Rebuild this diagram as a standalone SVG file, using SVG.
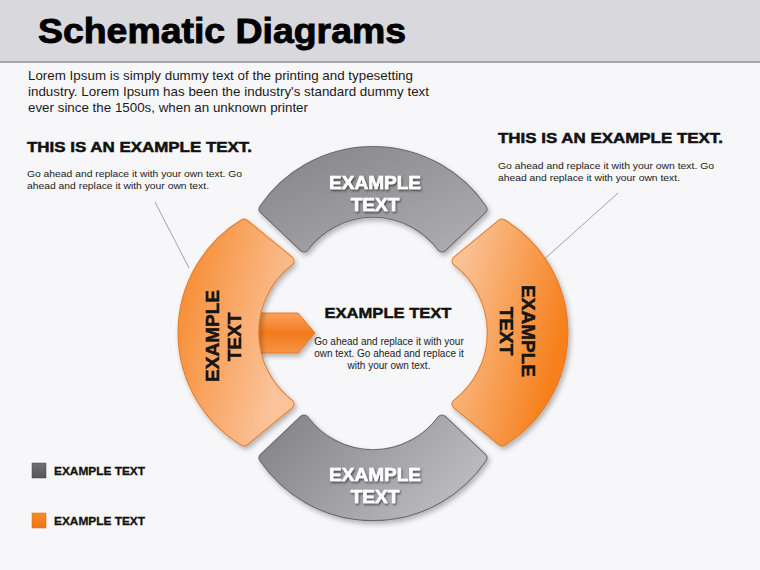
<svg xmlns="http://www.w3.org/2000/svg" width="760" height="570" viewBox="0 0 760 570">
<defs>
<linearGradient id="gTop" x1="0" y1="0" x2="1" y2="1"><stop offset="0" stop-color="#858488"/><stop offset="1" stop-color="#aeadb1"/></linearGradient>
<linearGradient id="gBot" x1="0" y1="0" x2="1" y2="0.4"><stop offset="0" stop-color="#828186"/><stop offset="1" stop-color="#b9b8bc"/></linearGradient>
<linearGradient id="oLeft" x1="0" y1="0" x2="1" y2="0.5"><stop offset="0" stop-color="#f6882b"/><stop offset="1" stop-color="#fbc39a"/></linearGradient>
<linearGradient id="oRight" x1="0" y1="0" x2="1" y2="0.5"><stop offset="0" stop-color="#fac9a3"/><stop offset="1" stop-color="#f6801b"/></linearGradient>
<linearGradient id="oArrow" x1="0" y1="0" x2="0" y2="1"><stop offset="0" stop-color="#f9a35e"/><stop offset="0.5" stop-color="#f27a1c"/><stop offset="1" stop-color="#f59445"/></linearGradient>
<linearGradient id="legGray" x1="0" y1="0" x2="0" y2="1"><stop offset="0" stop-color="#707074"/><stop offset="1" stop-color="#55555a"/></linearGradient>
<linearGradient id="legOr" x1="0" y1="0" x2="0" y2="1"><stop offset="0" stop-color="#f98a2a"/><stop offset="1" stop-color="#f37313"/></linearGradient>
<filter id="sh" x="-10%" y="-10%" width="130%" height="130%"><feDropShadow dx="2" dy="3" stdDeviation="2.5" flood-color="#000" flood-opacity="0.28"/></filter>
<filter id="tsh" x="-10%" y="-20%" width="130%" height="150%"><feDropShadow dx="1" dy="1.5" stdDeviation="0.8" flood-color="#000" flood-opacity="0.6"/></filter>
</defs>
<style>
.seg{stroke-width:11;stroke-linejoin:round}
.heavy{font-family:"Liberation Sans",Arial,sans-serif;font-weight:bold}
.wt{fill:#ffffff;font-size:19px;stroke:#ffffff;stroke-width:0.6;text-anchor:middle}
.bt{fill:#151515;font-size:19px;stroke:#151515;stroke-width:0.6;text-anchor:middle}
.body{font-family:"Liberation Sans",Arial,sans-serif;fill:#1a1a1a}
.lead{stroke:#8a8a8a;stroke-width:0.8;fill:none}
</style>
<rect x="0" y="0" width="760" height="570" fill="#f7f7f9"/>
<rect x="0" y="0" width="760" height="62" fill="#d9d8dc"/>
<rect x="0" y="61" width="760" height="2" fill="#a3a3a6"/>
<text class="heavy" x="38" y="43" font-size="35" fill="#000" stroke="#000" stroke-width="0.9" textLength="368" lengthAdjust="spacingAndGlyphs">Schematic Diagrams</text>
<g class="body" font-size="13">
<text x="28" y="80" textLength="385" lengthAdjust="spacingAndGlyphs">Lorem Ipsum is simply dummy text of the printing and typesetting</text>
<text x="28" y="96" textLength="401" lengthAdjust="spacingAndGlyphs">industry. Lorem Ipsum has been the industry's standard dummy text</text>
<text x="28" y="112" textLength="280" lengthAdjust="spacingAndGlyphs">ever since the 1500s, when an unknown printer</text>
</g>
<g id="note-left">
<text class="heavy" x="27" y="152" font-size="15" fill="#111" stroke="#111" stroke-width="0.5" textLength="225" lengthAdjust="spacingAndGlyphs">THIS IS AN EXAMPLE TEXT.</text>
<text class="body" x="27" y="177" font-size="9.5" textLength="215" lengthAdjust="spacingAndGlyphs">Go ahead and replace it with your own text. Go</text>
<text class="body" x="27" y="189" font-size="9.5" textLength="182" lengthAdjust="spacingAndGlyphs">ahead and replace it with your own text.</text>
</g>
<g id="note-right">
<text class="heavy" x="498" y="143" font-size="15" fill="#111" stroke="#111" stroke-width="0.5" textLength="225" lengthAdjust="spacingAndGlyphs">THIS IS AN EXAMPLE TEXT.</text>
<text class="body" x="498" y="169" font-size="9.5" textLength="216" lengthAdjust="spacingAndGlyphs">Go ahead and replace it with your own text. Go</text>
<text class="body" x="498" y="181" font-size="9.5" textLength="182" lengthAdjust="spacingAndGlyphs">ahead and replace it with your own text.</text>
</g>
<g id="connectors">
<line class="lead" x1="155" y1="202" x2="189" y2="268"/>
<line class="lead" x1="618" y1="193" x2="540" y2="263"/>
</g>
<g id="arrow">
<path d="M252,313 L298,313 L315,333 L298,353 L252,353 Z" fill="url(#oArrow)" stroke="#e56d12" stroke-width="0.8" filter="url(#sh)"/>
</g>
<g id="seg-top" filter="url(#sh)">
<path class="seg" d="M264,209 A132,132 0 0 1 482,209 L442,247 A86,86 0 0 0 304,247 Z" fill="url(#gTop)" stroke="#6b6a6e"/>
<path class="seg" style="stroke-width:9" d="M264,209 A132,132 0 0 1 482,209 L442,247 A86,86 0 0 0 304,247 Z" fill="url(#gTop)" stroke="url(#gTop)"/>
<text class="heavy wt" x="375" y="189" filter="url(#tsh)">EXAMPLE</text>
<text class="heavy wt" x="375" y="211" filter="url(#tsh)">TEXT</text>
</g>
<g id="seg-bottom" filter="url(#sh)">
<path class="seg" d="M264,458 A132,132 0 0 0 482,458 L442,420 A86,86 0 0 1 304,420 Z" fill="url(#gBot)" stroke="#6b6a6e"/>
<path class="seg" style="stroke-width:9" d="M264,458 A132,132 0 0 0 482,458 L442,420 A86,86 0 0 1 304,420 Z" fill="url(#gBot)" stroke="url(#gBot)"/>
<text class="heavy wt" x="375" y="481" filter="url(#tsh)">EXAMPLE</text>
<text class="heavy wt" x="375" y="503" filter="url(#tsh)">TEXT</text>
</g>
<g id="seg-left" filter="url(#sh)">
<path class="seg" d="M244,224 L289,261 A90,90 0 0 0 289,404 L244,441 A127,127 0 0 1 244,224 Z" fill="url(#oLeft)" stroke="#e37a2a"/>
<path class="seg" style="stroke-width:9" d="M244,224 L289,261 A90,90 0 0 0 289,404 L244,441 A127,127 0 0 1 244,224 Z" fill="url(#oLeft)" stroke="url(#oLeft)"/>
<text class="heavy bt" transform="translate(219,336) rotate(-90)">EXAMPLE</text>
<text class="heavy bt" transform="translate(241,337) rotate(-90)">TEXT</text>
</g>
<g id="seg-right" filter="url(#sh)">
<path class="seg" d="M502,224 L457,261 A90,90 0 0 1 457,404 L502,441 A127,127 0 0 0 502,224 Z" fill="url(#oRight)" stroke="#e37a2a"/>
<path class="seg" style="stroke-width:9" d="M502,224 L457,261 A90,90 0 0 1 457,404 L502,441 A127,127 0 0 0 502,224 Z" fill="url(#oRight)" stroke="url(#oRight)"/>
<text class="heavy bt" transform="translate(522,331) rotate(90)">EXAMPLE</text>
<text class="heavy bt" transform="translate(500,331) rotate(90)">TEXT</text>
</g>
<g id="center-text">
<text class="heavy" x="388" y="318" font-size="15.5" fill="#111" stroke="#111" stroke-width="0.45" text-anchor="middle" textLength="127" lengthAdjust="spacingAndGlyphs">EXAMPLE TEXT</text>
<g class="body" font-size="10" text-anchor="middle">
<text x="389" y="345">Go ahead and replace it with your</text>
<text x="389" y="357">own text. Go ahead and replace it</text>
<text x="389" y="369">with your own text.</text>
</g>
</g>
<g id="legend-gray">
<rect x="32" y="463" width="14" height="15" fill="url(#legGray)" stroke="#4a4a4e" stroke-width="0.5"/>
<text class="heavy" x="54" y="475" font-size="11.5" fill="#111" stroke="#111" stroke-width="0.3" textLength="91" lengthAdjust="spacingAndGlyphs">EXAMPLE TEXT</text>
</g>
<g id="legend-orange">
<rect x="32" y="513" width="14" height="15" fill="url(#legOr)" stroke="#e0690f" stroke-width="0.5"/>
<text class="heavy" x="54" y="525" font-size="11.5" fill="#111" stroke="#111" stroke-width="0.3" textLength="91" lengthAdjust="spacingAndGlyphs">EXAMPLE TEXT</text>
</g>
</svg>
